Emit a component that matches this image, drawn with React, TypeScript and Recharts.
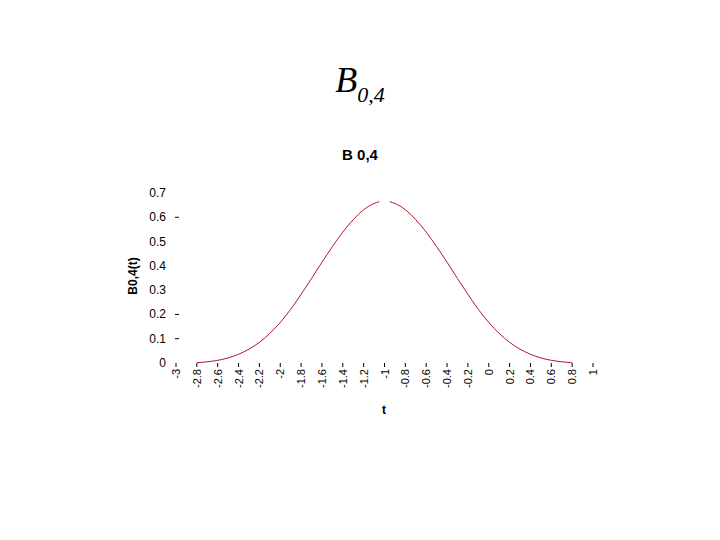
import React from 'react'
import { LineChart, Line, XAxis, YAxis } from 'recharts'

const T = [
  -2.8, -2.7, -2.6, -2.5, -2.4, -2.3, -2.2, -2.1, -2.0, -1.9, -1.8, -1.7, -1.6,
  -1.5, -1.4, -1.3, -1.2, -1.1, -1.05, -1.0, -0.95, -0.9, -0.8, -0.7, -0.6, -0.5,
  -0.4, -0.3, -0.2, -0.1, 0.0, 0.1, 0.2, 0.3, 0.4, 0.5, 0.6, 0.7, 0.8,
]
const B04: (number | null)[] = [
  0.001, 0.005, 0.011, 0.021, 0.036, 0.057, 0.085, 0.122, 0.167, 0.221, 0.283, 0.348, 0.415,
  0.479, 0.539, 0.590, 0.631, 0.657, 0.664, null, 0.664, 0.657, 0.631, 0.590, 0.539, 0.479,
  0.415, 0.348, 0.283, 0.221, 0.167, 0.122, 0.085, 0.057, 0.036, 0.021, 0.011, 0.005, 0.001,
]
const X_TICKS = [
  -3, -2.8, -2.6, -2.4, -2.2, -2, -1.8, -1.6, -1.4, -1.2, -1, -0.8, -0.6, -0.4, -0.2,
  0, 0.2, 0.4, 0.6, 0.8, 1,
]
const Y_TICKS = [0, 0.1, 0.2, 0.3, 0.4, 0.5, 0.6, 0.7]
const Y_DASHED = [0.1, 0.2, 0.6]

const data = T.map((t, i) => ({ t, b: B04[i] }))

const SANS = '"Liberation Sans", Arial, sans-serif'
const SERIF = '"Liberation Serif", "Times New Roman", serif'

function XTick({ x, y, payload }: any) {
  return (
    <g>
      <line x1={x} x2={x} y1={y} y2={y + 4} stroke="#000" strokeWidth={1} />
      <text
        x={x + 4}
        y={y + 6}
        transform={`rotate(-90 ${x + 4} ${y + 6})`}
        textAnchor="end"
        fontSize={11}
        fontFamily={SANS}
        fill="#000"
      >
        {payload.value}
      </text>
    </g>
  )
}

function YTick({ x, y, payload }: any) {
  return (
    <g>
      <text x={x - 10} y={y + 4} textAnchor="end" fontSize={12} fontFamily={SANS} fill="#000">
        {payload.value}
      </text>
      {Y_DASHED.includes(payload.value) && (
        <line x1={x - 1} x2={x + 3} y1={y} y2={y} stroke="#000" strokeWidth={1} />
      )}
    </g>
  )
}

export default function App() {
  return (
    <div style={{ position: 'absolute', left: 0, top: 0, width: 720, height: 540, background: '#fff' }}>
      <div style={{ position: 'absolute', left: 0, top: 59, width: 720, textAlign: 'center', fontFamily: SERIF, fontStyle: 'italic', color: '#000' }}>
        <span style={{ fontSize: 36 }}>B</span>
        <span style={{ fontSize: 22, position: 'relative', top: 10 }}>0,4</span>
      </div>
      <div style={{ position: 'absolute', left: 0, top: 146, width: 720, textAlign: 'center', fontFamily: SANS, fontWeight: 'bold', fontSize: 15 }}>
        B 0,4
      </div>
      <div
        style={{
          position: 'absolute', left: 133, top: 276, fontFamily: SANS, fontWeight: 'bold', fontSize: 12,
          transform: 'translate(-50%, -50%) rotate(-90deg)', whiteSpace: 'nowrap',
        }}
      >
        B0,4(t)
      </div>
      <div style={{ position: 'absolute', left: 382, top: 403, fontFamily: SANS, fontWeight: 'bold', fontSize: 12 }}>t</div>
      <LineChart
        width={720}
        height={540}
        data={data}
        margin={{ top: 193, right: 127, bottom: 147, left: 146 }}
      >
        <XAxis
          dataKey="t"
          type="number"
          domain={[-3, 1]}
          ticks={X_TICKS}
          interval={0}
          axisLine={false}
          tickLine={false}
          tickSize={0}
          tickMargin={0}
          height={30}
          tick={<XTick />}
        />
        <YAxis
          type="number"
          domain={[0, 0.7]}
          ticks={Y_TICKS}
          interval={0}
          axisLine={false}
          tickLine={false}
          tickSize={0}
          tickMargin={0}
          width={30}
          tick={<YTick />}
        />
        <Line
          dataKey="b"
          type="monotone"
          stroke="#b0182a"
          strokeWidth={1}
          dot={false}
          connectNulls={false}
          isAnimationActive={false}
        />
      </LineChart>
    </div>
  )
}
